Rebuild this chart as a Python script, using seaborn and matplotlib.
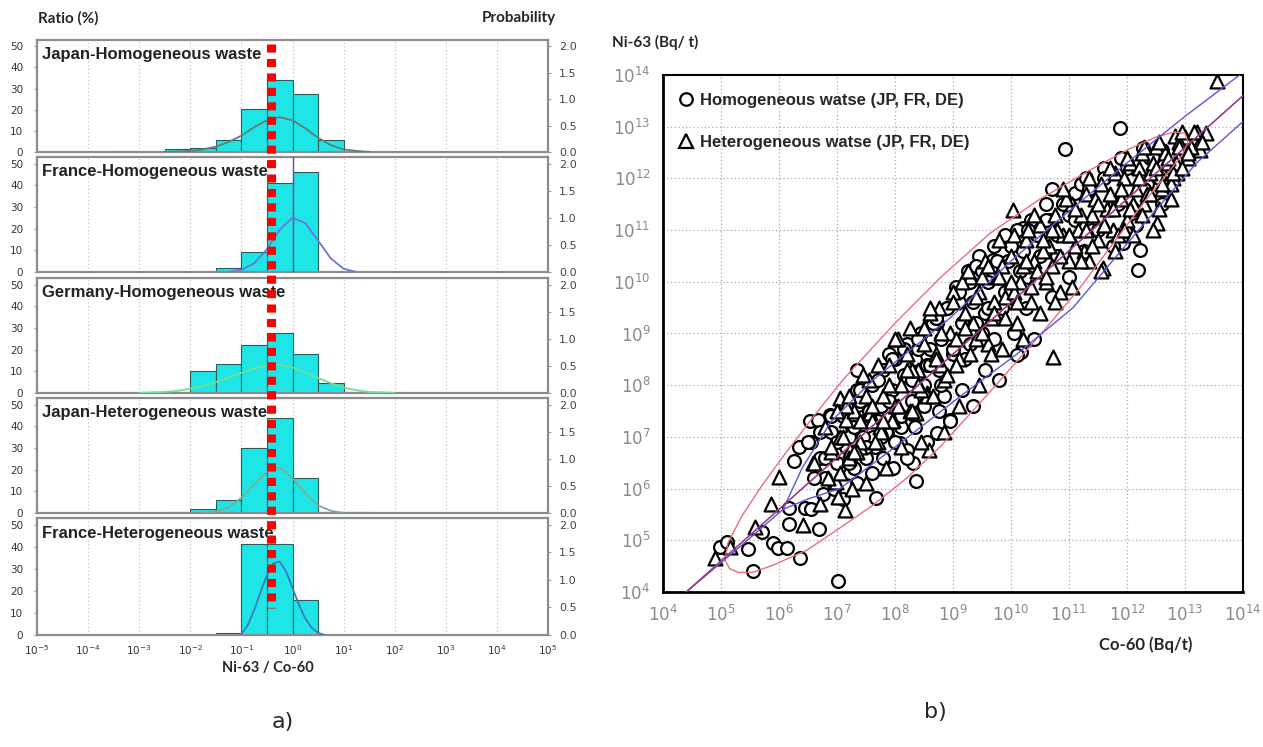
import numpy as np
import seaborn as sns
import matplotlib
matplotlib.use("Agg")
from matplotlib import pyplot as plt
from matplotlib import transforms
from matplotlib.lines import Line2D
from matplotlib.ticker import NullLocator, FixedLocator

sns.set_style("white")
plt.rcParams["font.family"] = ["DejaVu Sans"]

# ---------------- a) Ni-63 / Co-60 distributions ----------------
# half-decade bins, in log10 of the ratio
bin_edges = [-3.5, -3.0, -2.5, -2.0, -1.5, -1.0, -0.5, 0.0, 0.5, 1.0, 1.5, 2.0]

panel_titles = [
    "Japan-Homogeneous waste",
    "France-Homogeneous waste",
    "Germany-Homogeneous waste",
    "Japan-Heterogeneous waste",
    "France-Heterogeneous waste",
]

# ratio (%) per bin
ratio_jp_hom = [0.6, 0.0, 1.3, 1.8, 5.5, 20.5, 34.0, 27.5, 5.5, 0.4, 0.0]
ratio_fr_hom = [0.0, 0.0, 0.0, 0.0, 2.0, 9.0, 41.0, 46.0, 0.0, 0.0, 0.0]
ratio_de_hom = [0.0, 0.5, 0.6, 10.0, 13.5, 22.0, 27.5, 18.0, 4.5, 0.6, 0.5]
ratio_jp_het = [0.0, 0.0, 0.4, 2.0, 6.0, 30.0, 44.0, 16.0, 0.6, 0.3, 0.0]
ratio_fr_het = [0.0, 0.0, 0.0, 0.0, 1.0, 41.0, 41.0, 16.0, 0.0, 0.0, 0.0]

# fitted probability curves (x in log10)
curve_x_jp_hom = [-2.5, -2.25, -2.0, -1.75, -1.5, -1.25, -1.0, -0.75, -0.5, -0.25, 0.0, 0.25, 0.5, 0.75, 1.0, 1.25, 1.5]
curve_y_jp_hom = [0.0, 0.01, 0.02, 0.05, 0.1, 0.19, 0.31, 0.47, 0.6, 0.66, 0.6, 0.45, 0.27, 0.13, 0.05, 0.02, 0.0]
curve_x_fr_hom = [-1.25, -1.0, -0.75, -0.5, -0.25, 0.0, 0.25, 0.5, 0.75, 1.0, 1.25]
curve_y_fr_hom = [0.0, 0.04, 0.16, 0.42, 0.78, 1.0, 0.9, 0.58, 0.25, 0.06, 0.0]
curve_x_de_hom = [-3.0, -2.75, -2.5, -2.25, -2.0, -1.75, -1.5, -1.25, -1.0, -0.75, -0.5, -0.25, 0.0, 0.25, 0.5, 0.75, 1.0, 1.25, 1.5, 1.75, 2.0]
curve_y_de_hom = [0.0, 0.01, 0.02, 0.04, 0.08, 0.13, 0.2, 0.28, 0.37, 0.45, 0.51, 0.52, 0.47, 0.38, 0.28, 0.18, 0.1, 0.05, 0.02, 0.01, 0.0]
curve_x_jp_het = [-1.75, -1.5, -1.25, -1.0, -0.75, -0.5, -0.25, 0.0, 0.25, 0.5, 0.75, 1.0]
curve_y_jp_het = [0.0, 0.03, 0.1, 0.28, 0.53, 0.76, 0.84, 0.64, 0.36, 0.14, 0.04, 0.0]
curve_x_fr_het = [-1.0, -0.875, -0.75, -0.625, -0.5, -0.375, -0.25, -0.125, 0.0, 0.125, 0.25, 0.375, 0.5, 0.625]
curve_y_fr_het = [0.02, 0.18, 0.45, 0.78, 1.08, 1.3, 1.33, 1.15, 0.85, 0.55, 0.3, 0.13, 0.04, 0.0]

fr_hom_mean = 0.0          # log10, thin vertical marker in France-Homogeneous
reference_ratio = 0.38     # red dashed line

# ---------------- b) Ni-63 vs Co-60 scatter (log10 Bq/t) ----------------
# homogeneous waste (circles)
hom_x = [7.02, 5.55, 6.36, 5.47, 4.98, 5.1, 5.9, 5.98, 6.13, 5.7, 6.17, 6.69, 6.17, 6.45, 7.67, 8.36,
         7.96, 8.31, 8.72, 7.22, 7.22, 6.26, 6.35, 6.56, 6.53, 6.67, 6.88, 7.05, 8.09, 8.2, 8.95, 7.36,
         7.62, 7.86, 7.34, 10.27, 9.69, 8.72, 10.18, 10.1, 11.88, 10.93, 12.22, 12.19, 11.93, 10.21,
         10.67, 12.28, 12.6, 11.1,
         6.7, 6.8, 6.9, 7.0, 7.1, 7.15, 7.25, 7.3, 7.4, 7.45, 7.55, 7.6, 7.65, 7.75, 7.8, 7.85, 7.95,
         8.0, 8.05, 8.15, 8.2, 8.3, 8.35, 8.45, 8.5, 8.6, 8.65, 8.75, 8.8, 8.9, 9.0, 9.05, 9.15, 9.25,
         9.35, 9.45, 9.5, 9.6, 9.7, 9.85, 9.95, 10.1, 10.3, 10.45, 10.6, 10.8, 11.0, 11.2, 11.4, 11.6,
         11.8, 12.0, 12.2, 12.4, 12.55,
         7.2, 7.35, 7.5, 7.7, 7.9, 8.1, 8.25, 8.4, 8.55, 8.7, 8.85, 9.1, 9.3, 9.4, 9.55, 9.9, 10.2,
         10.35, 10.7, 11.3, 11.9, 12.1, 12.35,
         6.5, 6.55, 6.6, 6.7, 6.75, 6.8, 6.9, 6.95, 7.0, 7.1, 7.15, 7.2, 7.3, 7.35, 7.4, 7.5, 7.55,
         7.6, 7.7, 7.75, 7.8, 7.9, 7.95, 8.0, 8.1, 8.15, 8.2, 8.3, 8.35, 8.4, 8.5, 8.55, 8.6, 8.7,
         8.75, 8.8, 8.9, 8.95, 9.0, 9.1, 9.15, 9.2, 9.3, 9.35, 9.4, 9.5, 9.55, 9.6, 9.7, 9.75, 9.8,
         9.9, 10.0, 10.05, 10.15, 10.25, 10.3, 10.4, 10.5, 10.6, 10.7, 10.8, 10.9, 11.0, 11.1, 11.25,
         11.35, 11.5, 11.6, 11.75, 11.85, 12.0, 12.15, 12.3, 12.45, 12.6, 12.75]
hom_y = [4.21, 4.41, 4.66, 4.83, 4.88, 4.97, 4.95, 4.85, 4.85, 5.17, 5.32, 5.22, 5.62, 5.62, 5.82, 6.15,
         6.4, 6.49, 7.07, 6.3, 6.5, 6.53, 6.81, 6.91, 7.3, 7.33, 7.42, 6.94, 6.88, 6.75, 7.33, 7.62,
         7.0, 7.07, 8.29, 11.04, 10.42, 9.2, 8.65, 8.58, 12.97, 12.57, 10.61, 10.23, 10.76, 11.04,
         11.2, 12.59, 12.55, 11.72,
         6.6, 6.2, 7.1, 6.5, 7.4, 6.8, 7.2, 6.4, 7.7, 7.0, 7.4, 8.0, 6.8, 7.6, 8.3, 7.1, 7.9,
         8.5, 7.4, 8.2, 8.8, 7.7, 8.5, 9.0, 8.0, 8.7, 9.2, 8.3, 8.9, 9.5, 8.6, 9.9, 9.2, 10.2,
         9.6, 10.5, 9.0, 10.0, 10.7, 9.5, 10.4, 11.0, 10.1, 10.9, 11.5, 10.5, 11.3, 11.9, 11.0, 12.2,
         11.5, 12.3, 11.8, 12.4, 12.0,
         7.0, 7.9, 6.6, 7.3, 8.6, 7.2, 8.0, 8.7, 8.4, 9.3, 7.8, 9.6, 8.8, 10.3, 9.4, 10.9, 10.6,
         11.2, 11.8, 12.0, 12.4, 11.4, 11.9,
         6.9, 5.6, 6.2, 7.1, 5.9, 6.6, 7.4, 6.0, 6.9, 5.8, 7.6, 6.5, 7.2, 6.1, 7.9, 6.8, 7.5,
         6.3, 8.1, 7.0, 6.6, 7.7, 8.5, 6.9, 7.4, 8.7, 6.6, 8.1, 7.2, 8.9, 7.6, 6.9, 8.4, 9.3,
         7.5, 8.0, 9.5, 7.3, 8.7, 9.8, 7.9, 8.5, 10.0, 7.6, 9.2, 10.2, 8.3, 9.5, 8.9, 10.4, 8.1,
         9.8, 10.7, 9.0, 10.2, 9.5, 11.0, 8.9, 10.5, 11.2, 9.7, 10.9, 11.5, 10.1, 11.2, 10.6,
         11.8, 11.0, 12.0, 10.7, 11.5, 12.2, 11.1, 11.8, 12.4, 11.5, 12.2]

# heterogeneous waste (triangles)
het_x = [4.9, 5.16, 5.59, 5.87, 6.0, 6.41, 6.59, 6.98, 7.02, 7.14, 7.05, 8.59, 7.22, 7.4, 7.16, 7.57,
         7.74, 7.97, 8.37, 8.55, 10.03, 10.72, 13.55, 12.83, 13.0, 13.37, 13.2, 13.26, 12.88, 12.86,
         12.51, 11.59,
         6.9, 7.05, 7.2, 7.3, 7.4, 7.5, 7.6, 7.7, 7.8, 7.9, 8.0, 8.1, 8.2, 8.25, 8.4, 8.5, 8.55, 8.7,
         8.75, 8.85, 8.95, 9.0, 9.1, 9.2, 9.3, 9.4, 9.45, 9.55, 9.65, 9.75, 9.8, 9.9, 10.0, 10.1, 10.15,
         10.25, 10.35, 10.4, 10.5, 10.6, 10.65, 10.75, 10.85, 10.9, 11.0, 11.05, 11.15, 11.25, 11.3,
         11.4, 11.5, 11.55, 11.65, 11.75, 11.8, 11.9, 12.0, 12.05, 12.15, 12.25, 12.3, 12.4, 12.5,
         12.6, 12.7, 12.8, 12.9, 13.05, 13.2,
         7.15, 7.35, 7.55, 7.75, 7.95, 8.05, 8.3, 8.45, 8.6, 8.8, 9.05, 9.15, 9.35, 9.5, 9.6, 9.7,
         9.85, 10.05, 10.2, 10.3, 10.45, 10.55, 10.7, 10.8, 10.95, 11.1, 11.2, 11.35, 11.45, 11.6,
         11.7, 11.85, 11.95, 12.1, 12.2, 12.35, 12.45, 12.55, 12.65, 12.75, 12.85, 12.95, 13.1,
         6.6, 6.7, 6.8, 6.85, 6.9, 7.0, 7.05, 7.1, 7.2, 7.25, 7.3, 7.4, 7.45, 7.5, 7.6, 7.65, 7.7,
         7.8, 7.85, 7.9, 8.0, 8.05, 8.1, 8.2, 8.25, 8.3, 8.4, 8.45, 8.5, 8.6, 8.65, 8.7, 8.8, 8.85,
         8.9, 9.0, 9.05, 9.1, 9.2, 9.25, 9.3, 9.4, 9.45, 9.5, 9.6, 9.65, 9.7, 9.8, 9.85, 9.9, 10.0,
         10.05, 10.1, 10.2, 10.25, 10.35, 10.4, 10.5, 10.55, 10.6, 10.7, 10.75, 10.85, 10.9, 11.0,
         11.05, 11.1, 11.2, 11.3, 11.35, 11.4, 11.5, 11.55, 11.6, 11.7, 11.75, 11.8, 11.9, 11.95,
         12.0, 12.05, 12.1, 12.2, 12.25, 12.3, 12.4, 12.45, 12.5, 12.55, 12.6, 12.7, 12.75, 12.8,
         12.9, 12.95, 13.05, 13.15, 13.3]
het_y = [4.66, 4.88, 5.26, 5.7, 6.23, 5.3, 6.5, 6.13, 5.84, 5.59, 7.75, 6.75, 6.75, 6.81, 7.33, 7.46,
         7.2, 7.33, 7.46, 7.85, 11.39, 8.55, 13.89, 12.82, 12.8, 12.88, 12.6, 12.55, 12.39, 12.1,
         11.14, 10.27,
         6.7, 7.0, 6.6, 7.5, 6.9, 7.8, 7.3, 6.9, 7.8, 8.4, 7.6, 8.0, 8.6, 7.5, 8.3, 9.1, 7.8, 8.6,
         9.5, 8.1, 9.0, 9.8, 8.5, 9.4, 10.1, 8.9, 9.8, 10.4, 9.3, 10.1, 10.8, 9.7, 10.5, 9.2, 10.0,
         10.8, 9.6, 10.4, 11.1, 10.0, 10.7, 11.3, 9.8, 10.9, 10.4, 11.5, 11.0, 10.6, 11.7,
         11.3, 10.8, 11.9, 11.4, 11.0, 12.1, 11.6, 11.2, 12.3, 11.8, 12.5, 11.5, 12.1, 12.6,
         11.8, 12.3, 12.0, 12.7, 12.4, 12.9,
         7.6, 6.7, 8.1, 7.1, 7.3, 8.9, 8.3, 7.9, 9.4, 8.4, 8.9, 10.0, 9.2, 10.1, 8.8, 9.6,
         10.3, 9.8, 10.3, 11.0, 10.2, 10.6, 10.3, 11.0, 11.6, 10.7, 11.3, 10.4, 11.6, 11.1,
         11.7, 10.9, 12.0, 11.5, 12.2, 11.7, 12.3, 11.4, 12.5, 11.9, 12.3, 12.9, 12.6,
         6.5, 5.7, 7.2, 6.2, 6.8, 7.5, 6.3, 7.0, 7.8, 6.0, 6.7, 7.3, 8.2, 6.1, 7.6, 6.9, 8.4,
         7.3, 6.4, 8.0, 8.9, 7.6, 6.8, 8.3, 9.1, 7.5, 8.0, 6.9, 8.8, 9.5, 7.8, 8.5, 9.0, 7.1,
         8.2, 9.6, 8.4, 7.6, 9.1, 10.2, 8.6, 9.7, 8.0, 9.0, 10.3, 8.6, 9.4, 10.1, 8.7, 9.3, 10.0,
         10.9, 9.6, 8.9, 10.4, 9.9, 11.3, 9.4, 10.8, 10.1, 11.0, 9.6, 10.5, 11.8, 10.9,
         9.9, 11.4, 10.4, 11.0, 12.0, 10.7, 11.5, 10.2, 11.1, 12.2, 11.4, 10.6, 11.8, 11.0,
         12.4, 11.4, 10.9, 12.0, 11.3, 12.6, 11.7, 11.0, 12.2, 12.7, 11.9, 12.4, 11.6, 12.1,
         12.6, 12.2, 12.5, 12.9, 12.7]

# confidence ellipse and bands (log10)
ellipse_x = [5.07, 5.12, 5.35, 5.7, 6.07, 6.6, 7.1, 8.0, 8.8, 9.64, 10.5, 11.36, 12.0, 12.5, 12.83, 13.0,
             13.05, 12.95, 12.7, 12.3, 11.8, 11.2, 10.6, 9.7, 8.78, 8.2, 7.62, 7.0, 6.48, 5.9, 5.55, 5.3,
             5.15, 5.07]
ellipse_y = [4.62, 4.95, 5.45, 6.05, 6.62, 7.4, 8.1, 9.2, 10.1, 10.94, 11.6, 12.16, 12.55, 12.8, 12.9, 12.87,
             12.7, 12.45, 12.1, 11.55, 10.8, 9.9, 9.1, 7.95, 6.81, 6.2, 5.68, 5.2, 4.81, 4.52, 4.38, 4.38,
             4.45, 4.62]
band_up_x = [4.4, 5.3, 6.07, 6.4, 6.9, 7.62, 8.95, 10.0, 10.72, 12.0, 13.0, 14.0]
band_up_y = [4.0, 4.85, 5.6, 6.4, 7.3, 8.1, 9.3, 10.4, 11.1, 12.3, 13.2, 14.05]
band_lo_x = [6.07, 6.5, 7.05, 8.09, 9.12, 10.1, 11.07, 12.2, 13.2, 14.0]
band_lo_y = [5.6, 5.8, 6.0, 6.88, 7.78, 8.6, 9.5, 11.0, 12.3, 13.1]
center_x = [4.4, 14.0]
center_y = [4.0, 13.6]

# ---------------------------------------------------------------
W, H = 1263.0, 747.0
fig = plt.figure(figsize=(W / 100, H / 100), dpi=100)


def px_axes(x0, y0, x1, y1):
    return fig.add_axes([x0 / W, 1 - y1 / H, (x1 - x0) / W, (y1 - y0) / H])


bar_color = "#1fe6e6"
bar_edge = "#2c5c5c"
frame_color = "#8c8c8c"
title_font = ["Liberation Sans", "DejaVu Sans"]
label_font = ["Lato", "DejaVu Sans"]

ratios = [ratio_jp_hom, ratio_fr_hom, ratio_de_hom, ratio_jp_het, ratio_fr_het]
curves = [(curve_x_jp_hom, curve_y_jp_hom), (curve_x_fr_hom, curve_y_fr_hom),
          (curve_x_de_hom, curve_y_de_hom), (curve_x_jp_het, curve_y_jp_het),
          (curve_x_fr_het, curve_y_fr_het)]
curve_colors = ["#5f7d7a", "#6a76d6", "#72e08e", "#80aa90", "#3b78c0"]
panel_boxes = [(40, 152), (157, 272), (278, 393), (398, 513), (518, 635)]
bin_centers = (np.array(bin_edges[:-1]) + np.array(bin_edges[1:])) / 2

left_axes = []
for i, (top, bottom) in enumerate(panel_boxes):
    ax = px_axes(37, top, 548, bottom)
    sns.histplot(x=bin_centers, weights=ratios[i], bins=bin_edges, ax=ax,
                 color=bar_color, edgecolor=bar_edge, linewidth=0.8, alpha=1.0)
    ax.set_xlim(-5, 5)
    ax.set_ylim(0, 53)
    ax.set_xticks(range(-5, 6))
    ax.grid(axis="x", linestyle=(0, (1, 2)), color="#c4c4c4", linewidth=0.9)
    ax.grid(axis="y", visible=False)
    ax.set_axisbelow(True)
    ax.set_yticks([0, 10, 20, 30, 40, 50])
    ax.tick_params(axis="y", labelsize=7.5, labelcolor="#333333", length=2, color="#999999", pad=8)
    if i == len(panel_boxes) - 1:
        ax.set_xticklabels([f"$10^{{{k}}}$" for k in range(-5, 6)])
        ax.tick_params(axis="x", labelsize=7.5, labelcolor="#333333", length=3, color="#999999", pad=3)
    else:
        ax.tick_params(axis="x", labelbottom=False, length=0)
    for sp in ax.spines.values():
        sp.set_color(frame_color)
        sp.set_linewidth(1.6)
    ax.set_xlabel("")
    ax.set_ylabel("")
    if i == 1:
        ax.axvline(fr_hom_mean, color="#4a5ab0", linewidth=1.0, zorder=3)

    ax2 = ax.twinx()
    sns.lineplot(x=curves[i][0], y=curves[i][1], ax=ax2, color=curve_colors[i],
                 linewidth=1.3, estimator=None, sort=False)
    ax2.set_ylim(0, 2.12)
    ax2.set_yticks([0, 0.5, 1.0, 1.5, 2.0])
    ax2.set_yticklabels(["0.0", "0.5", "1.0", "1.5", "2.0"])
    ax2.tick_params(axis="y", labelsize=8, labelcolor="#444444", length=2, color="#999999", pad=6)
    ax2.set_ylabel("")
    for sp in ax2.spines.values():
        sp.set_visible(False)

    ax.text(0.01, 0.87, panel_titles[i], transform=ax.transAxes, ha="left", va="center",
            fontsize=12, fontweight="bold", color="#222222", family=title_font, zorder=5)
    left_axes.append(ax)

# red dashed reference line running over all five panels
trans = transforms.blended_transform_factory(left_axes[-1].transData, fig.transFigure)
red_x = np.log10(reference_ratio)
fig.add_artist(Line2D([red_x, red_x], [1 - 44 / H, 1 - 608 / H], transform=trans,
                      color="#ff0000", linewidth=6.5, linestyle=(0, (0.9, 0.7)),
                      dash_capstyle="butt", zorder=10))

fig.text(38 / W, 1 - 18 / H, "Ratio (%)", ha="left", va="center", fontsize=11,
         fontweight="bold", family=label_font)
fig.text(556 / W, 1 - 18 / H, "Probability", ha="right", va="center", fontsize=11,
         fontweight="bold", family=label_font)
fig.text(268 / W, 1 - 668 / H, "Ni-63 / Co-60", ha="center", va="center", fontsize=10.5,
         fontweight="bold", family=label_font)
fig.text(283 / W, 1 - 722 / H, "a)", ha="center", va="center", fontsize=16)

# ---------------- right panel ----------------
ax_r = px_axes(663, 75, 1243, 592)
ax_r.set_xscale("log")
ax_r.set_yscale("log")

sns.scatterplot(x=10.0 ** np.array(hom_x), y=10.0 ** np.array(hom_y), ax=ax_r, marker="o", s=85,
                color="white", edgecolor="black", linewidth=1.6, zorder=2)
sns.scatterplot(x=10.0 ** np.array(het_x), y=10.0 ** np.array(het_y), ax=ax_r, marker="^", s=100,
                color="white", edgecolor="black", linewidth=1.6, zorder=2)

for lx, ly, lc, lw in [(ellipse_x, ellipse_y, "#e8707a", 1.0),
                       (band_up_x, band_up_y, "#5858d8", 1.0),
                       (band_lo_x, band_lo_y, "#5858d8", 1.0),
                       (center_x, center_y, "#9a3c86", 1.2)]:
    sns.lineplot(x=10.0 ** np.array(lx), y=10.0 ** np.array(ly), ax=ax_r, color=lc,
                 linewidth=lw, estimator=None, sort=False, zorder=3)

ax_r.set_xlim(1e4, 1e14)
ax_r.set_ylim(1e4, 1e14)
for axis in (ax_r.xaxis, ax_r.yaxis):
    axis.set_major_locator(FixedLocator([10.0 ** k for k in range(4, 15)]))
    axis.set_minor_locator(NullLocator())
ax_r.set_xticklabels([f"$10^{{{k}}}$" for k in range(4, 15)])
ax_r.set_yticklabels([f"$10^{{{k}}}$" for k in range(4, 15)])
ax_r.grid(True, which="major", linestyle=(0, (1, 2)), color="#aaaaaa", linewidth=0.9)
ax_r.set_axisbelow(True)
ax_r.tick_params(axis="both", direction="out", length=5, width=1.2, color="black",
                 labelsize=12, labelcolor="#8a8a8a", pad=4)
for name, sp in ax_r.spines.items():
    sp.set_color("black")
    sp.set_linewidth(2.0 if name in ("left", "bottom") else 1.5)
ax_r.set_xlabel("")
ax_r.set_ylabel("")

handles = [Line2D([], [], marker="o", linestyle="none", mfc="white", mec="black", ms=9, mew=1.6),
           Line2D([], [], marker="^", linestyle="none", mfc="white", mec="black", ms=10, mew=1.6)]
ax_r.legend(handles, ["Homogeneous watse (JP, FR, DE)", "Heterogeneous watse (JP, FR, DE)"],
            loc="upper left", bbox_to_anchor=(0.01, 0.985), frameon=False, handlelength=0.9,
            handletextpad=0.35, labelspacing=1.65, borderaxespad=0.2,
            prop={"family": title_font, "weight": "bold", "size": 12})

fig.text(612 / W, 1 - 42 / H, "Ni-63 (Bq/ t)", ha="left", va="center", fontsize=11,
         fontweight="bold", family=label_font)
fig.text(1146 / W, 1 - 645 / H, "Co-60 (Bq/t)", ha="center", va="center", fontsize=12,
         fontweight="bold", family=label_font)
fig.text(935 / W, 1 - 712 / H, "b)", ha="center", va="center", fontsize=16)

fig.savefig("out.png", dpi=100)
plt.close(fig)
